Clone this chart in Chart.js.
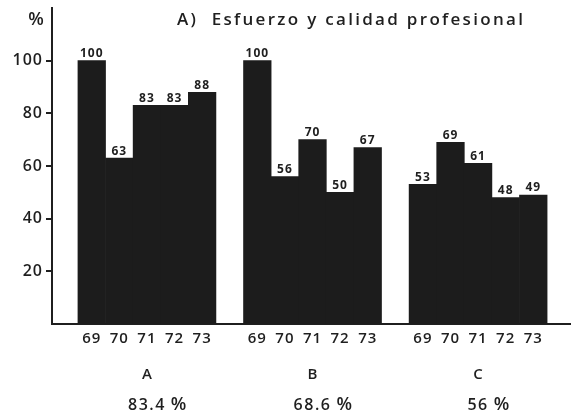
<!DOCTYPE html>
<html>
<head>
<meta charset="utf-8">
<script src="https://cdn.jsdelivr.net/npm/chart.js@4"></script>
<style>
  html, body { margin: 0; padding: 0; background: #fff; }
  #c { display: block; }
</style>
</head>
<body>
<canvas id="c" width="571" height="413"></canvas>
<script>
// Data
const groups = ['A', 'B', 'C'];
const years = ['69', '70', '71', '72', '73'];
const valuesA = [100, 63, 83, 83, 88];
const valuesB = [100, 56, 70, 50, 67];
const valuesC = [53, 69, 61, 48, 49];
const groupTotals = [83.4, 68.6, 56];
const yTickValues = [20, 40, 60, 80, 100];
const titleText = 'A)  Esfuerzo y calidad profesional';

// Layout of the x axis: every group uses one slot per year, preceded by an empty slot
const seriesByGroup = [valuesA, valuesB, valuesC];
const slotsPerGroup = years.length + 1;
const slotCenter = (g, i) => 1 + g * slotsPerGroup + i + 0.5;

const points = [];
seriesByGroup.forEach((vals, g) => {
  vals.forEach((v, i) => points.push({ x: slotCenter(g, i), y: v }));
});
const barCenters = points.map(p => p.x);

const INK = '#1f1f1f';
const BAR = '#1c1c1c';
const FONT = '"Open Sans", "DejaVu Sans", sans-serif';

const textPlugin = {
  id: 'chartText',
  beforeDraw(chart) {
    chart.ctx.letterSpacing = '1px';
  },
  afterDatasetsDraw(chart) {
    const ctx = chart.ctx;
    const meta = chart.getDatasetMeta(0);
    ctx.save();
    ctx.fillStyle = INK;
    ctx.font = '700 12px ' + FONT;
    ctx.letterSpacing = '1px';
    ctx.textAlign = 'center';
    ctx.textBaseline = 'bottom';
    meta.data.forEach((bar, k) => {
      ctx.fillText(String(points[k].y), bar.x, bar.y - 1);
    });
    ctx.restore();
  },
  afterDraw(chart) {
    const ctx = chart.ctx;
    const xs = chart.scales.x;
    ctx.save();
    ctx.fillStyle = INK;

    // title
    ctx.font = '600 17px ' + FONT;
    ctx.letterSpacing = '2.3px';
    ctx.textAlign = 'left';
    ctx.textBaseline = 'middle';
    ctx.fillText(titleText, 177, 20);

    // unit label above the y axis
    ctx.font = '600 18px ' + FONT;
    ctx.letterSpacing = '0px';
    ctx.textAlign = 'center';
    ctx.fillText('%', 36, 20);

    // group letters and group totals
    groups.forEach((name, g) => {
      const cx = xs.getPixelForValue(slotCenter(g, 2));
      ctx.font = '600 15px ' + FONT;
      ctx.letterSpacing = '0px';
      ctx.textAlign = 'center';
      ctx.fillText(name, cx, 375);

      ctx.font = '600 16px ' + FONT;
      ctx.letterSpacing = '1.5px';
      const num = String(groupTotals[g]);
      ctx.fillText(num, cx, 405);
      const w = ctx.measureText(num).width;
      ctx.font = '600 18px ' + FONT;
      ctx.letterSpacing = '0px';
      ctx.textAlign = 'left';
      ctx.fillText('%', cx + w / 2 + 5, 405);
    });
    ctx.restore();
  }
};

new Chart(document.getElementById('c'), {
  type: 'bar',
  data: {
    datasets: [{
      data: points,
      backgroundColor: BAR,
      borderWidth: 0,
      barPercentage: 1,
      categoryPercentage: 1
    }]
  },
  options: {
    responsive: false,
    animation: false,
    devicePixelRatio: 1,
    layout: { padding: { top: 8, right: 1, left: 0, bottom: 0 } },
    plugins: {
      legend: { display: false },
      title: { display: false },
      tooltip: { enabled: false }
    },
    scales: {
      x: {
        type: 'linear',
        offset: false,
        min: 0.06,
        max: 18.83,
        afterFit(scale) {
          scale.height = 89;
          scale.paddingLeft = 0;
          scale.paddingRight = 0;
        },
        afterBuildTicks(scale) {
          scale.ticks = barCenters.map(v => ({ value: v }));
        },
        grid: { display: false, drawTicks: false, tickLength: 0 },
        border: { display: true, color: INK, width: 2 },
        ticks: {
          autoSkip: false,
          maxRotation: 0,
          padding: 6,
          color: INK,
          font: { family: FONT, size: 15, weight: '600' },
          callback: (value, index) => years[index % years.length]
        }
      },
      y: {
        min: 0,
        max: 120,
        afterFit(scale) {
          scale.width = 52;
          scale.paddingTop = 0;
          scale.paddingBottom = 0;
        },
        afterBuildTicks(scale) {
          scale.ticks = yTickValues.map(v => ({ value: v }));
        },
        grid: {
          display: true,
          drawOnChartArea: false,
          drawTicks: true,
          tickLength: 6,
          lineWidth: 2,
          color: INK
        },
        border: { display: true, color: INK, width: 2 },
        ticks: {
          padding: 3,
          color: INK,
          font: { family: FONT, size: 16, weight: '600' },
          callback: v => String(v)
        }
      }
    }
  },
  plugins: [textPlugin]
});
</script>
</body>
</html>
